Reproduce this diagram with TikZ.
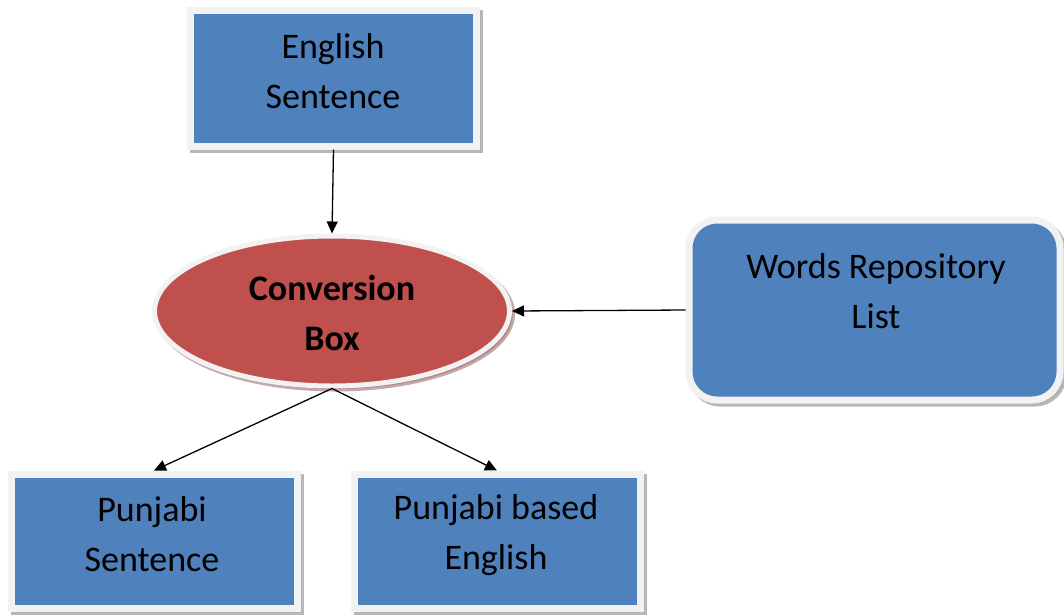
\documentclass[tikz,border=0pt]{standalone}
\usepackage{fontspec}
\setmainfont{Carlito}
\usetikzlibrary{shapes.geometric,shadows,arrows.meta}
\definecolor{boxblue}{HTML}{4F81BD}
\definecolor{boxred}{HTML}{C0504D}
\definecolor{rim}{HTML}{F2F2F2}
\begin{document}
\begin{tikzpicture}[x=1pt,y=-1pt,
  box/.style={rectangle, fill=boxblue, draw=rim, line width=7pt, inner sep=0pt,
    drop shadow={shadow xshift=3pt, shadow yshift=-3pt, fill=black!40, draw=black!40, line width=7pt, opacity=0.7}},
  rbox/.style={box, rounded corners=28pt},
  oval/.style={ellipse, fill=boxred, draw=rim, line width=5pt, inner sep=0pt,
    drop shadow={shadow xshift=3pt, shadow yshift=-3pt, fill=boxred!60!black!70, draw=boxred!60!black!70, line width=5pt, opacity=0.6}},
  txt/.style={font=\fontsize{36}{50}\selectfont, align=center, text=black, inner sep=0pt},
  arr/.style={-{Triangle[length=12pt,width=11pt]}, line width=1.3pt, black}]
\useasboundingbox (0,0) rectangle (1064,614);
% shapes
\node[box, minimum width=286pt, minimum height=136pt] (eng) at (333.5,78) {};
\node[oval, minimum width=355pt, minimum height=150pt] (conv) at (332,311) {};
\node[rbox, minimum width=371pt, minimum height=180pt] (words) at (874.5,310) {};
\node[box, minimum width=286pt, minimum height=134pt] (pun) at (154,541) {};
\node[box, minimum width=286pt, minimum height=134pt] (pbe) at (497,541) {};
% texts
\node[txt] (engT) at (333,71) {English\\Sentence};
\node[txt, font=\fontsize{36}{50}\selectfont\bfseries] (convT) at (332,313) {Conversion\\Box};
\node[txt] (wordsT) at (876,291) {Words Repository\\List};
\node[txt] (punT) at (152,534) {Punjabi\\Sentence};
\node[txt] (pbeT) at (496,535) {Punjabi based\\English};
% connectors
\draw[arr] (eng.south) -- (conv.north);
\draw[arr] (words.west) -- (conv.east);
\draw[arr] (conv.south) -- (pun.north);
\draw[arr] (conv.south) -- (pbe.north);
\end{tikzpicture}
\end{document}
